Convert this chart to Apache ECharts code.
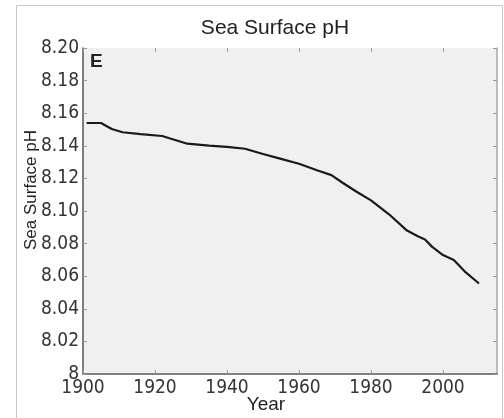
<!DOCTYPE html>
<html>
<head>
<meta charset="utf-8">
<script src="https://cdn.jsdelivr.net/npm/echarts@6/dist/echarts.min.js"></script>
<style>
  html, body { margin: 0; padding: 0; background: #fff; }
  #chart { width: 504px; height: 418px; }
</style>
</head>
<body>
<div id="chart"></div>
<script>
// Sea surface pH record, 1901-2010
const years = [1901, 1905, 1908, 1911, 1916, 1922, 1924, 1929, 1935, 1940, 1945, 1950, 1955, 1960, 1965, 1969, 1972, 1976, 1980, 1985, 1990, 1993, 1995, 1997, 2000, 2003, 2006, 2010];
const ph    = [8.154, 8.154, 8.1503, 8.1483, 8.1472, 8.146, 8.1446, 8.1413, 8.1401, 8.1393, 8.1382, 8.135, 8.132, 8.129, 8.125, 8.122, 8.1175, 8.1118, 8.1065, 8.098, 8.088, 8.0845, 8.0825, 8.078, 8.073, 8.070, 8.063, 8.0555];

const xTicks = [1900, 1920, 1940, 1960, 1980, 2000];
const yTicks = [8, 8.02, 8.04, 8.06, 8.08, 8.10, 8.12, 8.14, 8.16, 8.18, 8.20];

const titleText = 'Sea Surface pH';
const xName = 'Year';
const yName = 'Sea Surface pH';
const panelTag = 'E';

const tickFont = '"Liberation Sans Narrow", "DejaVu Sans Condensed", "Liberation Sans", Arial, sans-serif';
const textFont = '"Liberation Sans", Arial, sans-serif';

const chart = echarts.init(document.getElementById('chart'), null, { renderer: 'canvas' });

const grid = { left: 83, top: 48, width: 414, height: 326 };

const fmtY = v => (Math.abs(v - 8) < 1e-9 ? '8' : v.toFixed(2));
const fmtX = v => String(Math.round(v));

chart.setOption({
  animation: false,
  backgroundColor: '#ffffff',
  grid: Object.assign({ show: true, backgroundColor: '#f0f0f0', borderWidth: 0 }, grid),
  xAxis: [
    {
      type: 'value', min: 1900, max: 2015, interval: 20, position: 'bottom',
      axisLine: { show: true, lineStyle: { color: '#555', width: 1.5 } },
      axisTick: { show: true, inside: true, length: 4, lineStyle: { color: '#999' }, customValues: xTicks },
      axisLabel: { show: true, margin: 5, color: '#333', fontSize: 19, fontFamily: tickFont, customValues: xTicks, formatter: fmtX },
      splitLine: { show: false }
    },
    {
      type: 'value', min: 1900, max: 2015, interval: 20, position: 'top',
      axisLine: { show: false },
      axisTick: { show: true, inside: true, length: 4, lineStyle: { color: '#999' }, customValues: xTicks },
      axisLabel: { show: false },
      splitLine: { show: false }
    }
  ],
  yAxis: [
    {
      type: 'value', min: 8, max: 8.2, interval: 0.02, position: 'left',
      axisLine: { show: true, lineStyle: { color: '#555', width: 1.5 } },
      axisTick: { show: true, inside: true, length: 4, lineStyle: { color: '#999' }, customValues: yTicks },
      axisLabel: { show: true, margin: 4, color: '#333', fontSize: 19, fontFamily: tickFont, customValues: yTicks, formatter: fmtY },
      splitLine: { show: false }
    },
    {
      type: 'value', min: 8, max: 8.2, interval: 0.02, position: 'right',
      axisLine: { show: true, lineStyle: { color: '#aaa', width: 1.5 } },
      axisTick: { show: true, inside: true, length: 4, lineStyle: { color: '#999' }, customValues: yTicks },
      axisLabel: { show: false },
      splitLine: { show: false }
    }
  ],
  series: [
    {
      type: 'line',
      xAxisIndex: 0, yAxisIndex: 0,
      data: years.map((y, i) => [y, ph[i]]),
      showSymbol: false,
      smooth: false,
      lineStyle: { color: '#1a1a1a', width: 2.2 }
    }
  ],
  graphic: [
    {
      type: 'rect', silent: true, z: -1,
      shape: { x: 16.5, y: 5.5, width: 486, height: 440 },
      style: { fill: null, stroke: '#c8c8c8', lineWidth: 1 }
    },
    {
      type: 'text', x: 275, y: 28,
      style: { text: titleText, fill: '#222', font: '21px ' + textFont, textAlign: 'center', textVerticalAlign: 'middle' }
    },
    {
      type: 'text', x: 266, y: 405,
      style: { text: xName, fill: '#222', font: '19px ' + textFont, textAlign: 'center', textVerticalAlign: 'middle' }
    },
    {
      type: 'text', x: 31, y: 190, rotation: Math.PI / 2,
      style: { text: yName, fill: '#222', font: '17px ' + textFont, textAlign: 'center', textVerticalAlign: 'middle' }
    },
    {
      type: 'text', x: 90, y: 62,
      style: { text: panelTag, fill: '#222', font: 'bold 19px ' + textFont, textAlign: 'left', textVerticalAlign: 'middle' }
    }
  ]
});
</script>
</body>
</html>
